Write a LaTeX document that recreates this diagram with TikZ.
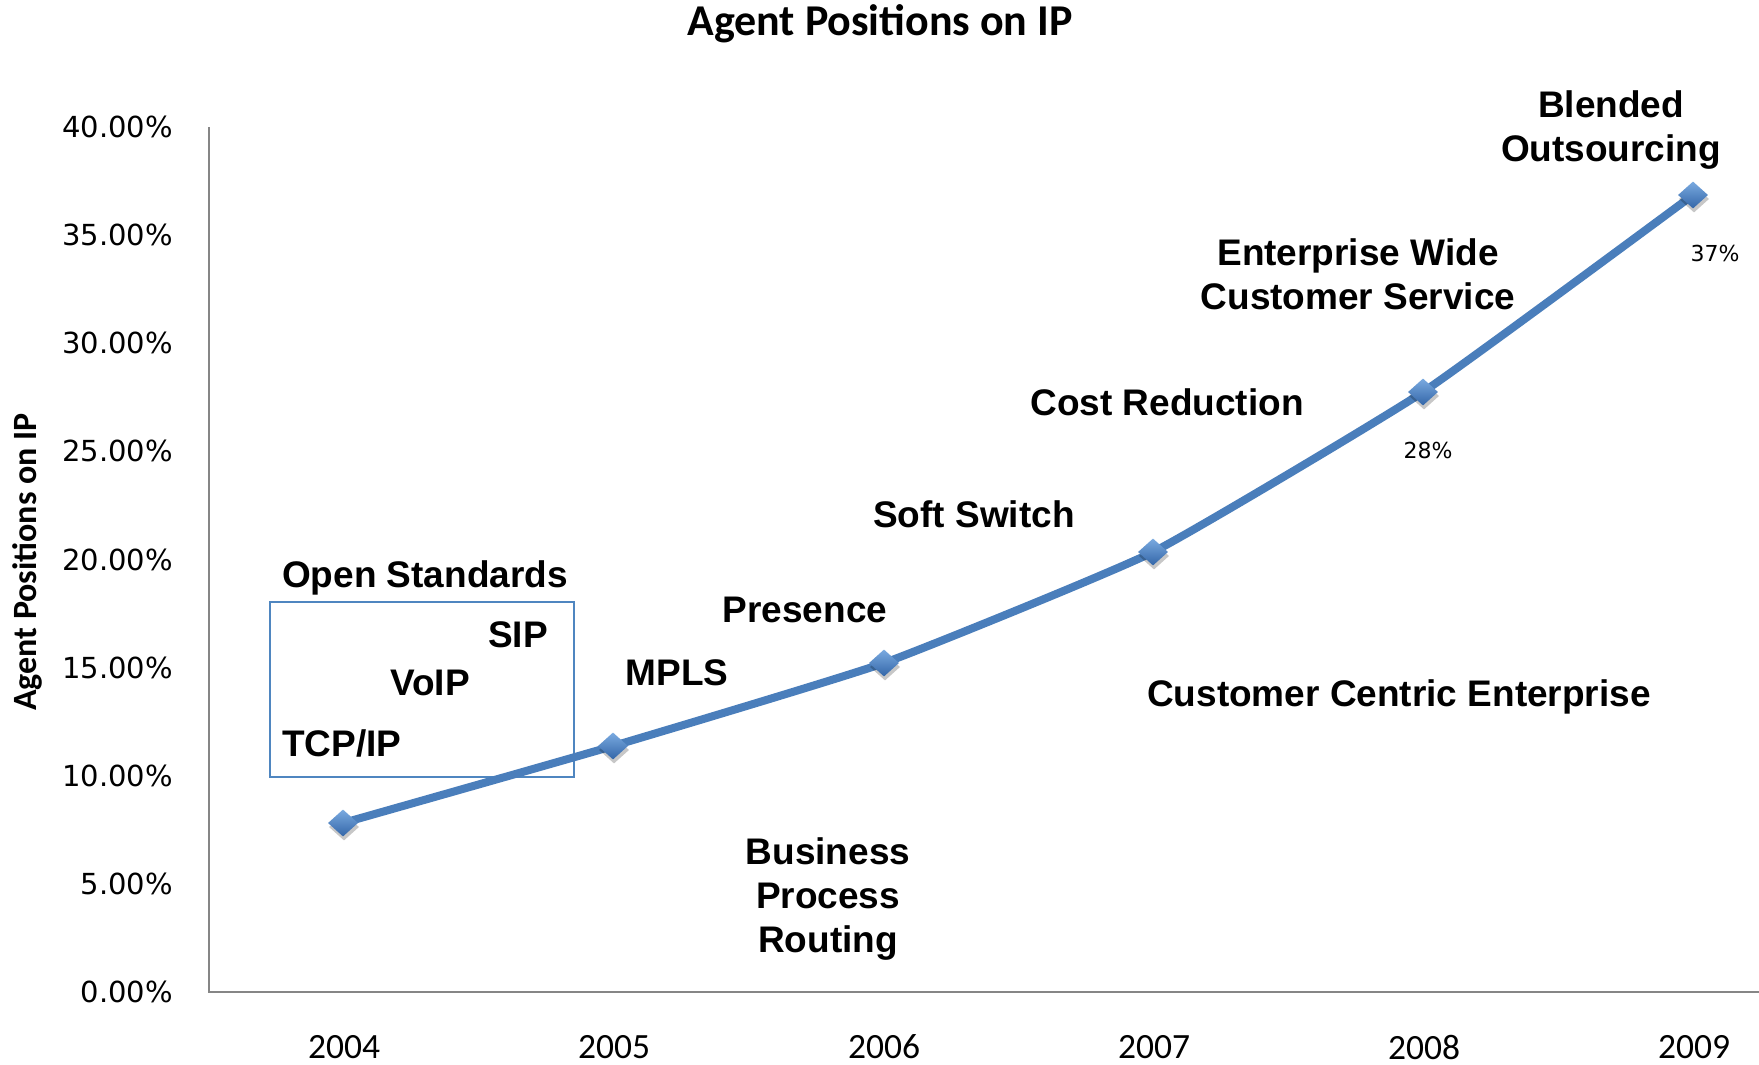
\documentclass[tikz,border=0pt]{standalone}
\usepackage{fontspec}
\setmainfont{Liberation Sans}
\newfontfamily\carlito{Carlito}
\newfontfamily\dejavu{DejaVu Sans}
\usetikzlibrary{shapes.geometric,shadows}
\definecolor{serie}{HTML}{4A7EBB}
\definecolor{serielight}{HTML}{7AAAE0}
\definecolor{seriedark}{HTML}{3366A8}
\definecolor{axisgray}{HTML}{868686}
\definecolor{boxblue}{HTML}{4F86C0}
\begin{document}
\begin{tikzpicture}[x=1pt,y=-1pt,
  ann/.style={font=\fontsize{37}{44}\selectfont\bfseries, inner sep=0pt, align=center},
  ticklab/.style={font=\dejavu\fontsize{29}{34}\selectfont, anchor=east, inner sep=0pt},
  yearlab/.style={font=\carlito\fontsize{35.5}{42}\selectfont, inner sep=0pt},
  pct/.style={font=\dejavu\fontsize{22}{26}\selectfont, inner sep=0pt},
  axisline/.style={draw=axisgray, line width=1.6pt},
  marker/.style={diamond, minimum width=30pt, minimum height=27pt, inner sep=0pt,
    top color=serielight, bottom color=seriedark, draw=none,
    drop shadow={shadow xshift=1pt, shadow yshift=-4pt, opacity=0.22, fill=black}},
  seriesline/.style={draw=serie, line width=8pt, line join=round}]
\useasboundingbox (0,0) rectangle (1759,1065);
\fill[white] (0,0) rectangle (1759,1065);

% title
\node[font=\carlito\bfseries\fontsize{44}{52}\selectfont, inner sep=0pt] (title) at (880,24) {Agent Positions on IP};

% axes
\coordinate (origin) at (209,992);
\coordinate (ytop) at (209,127);
\coordinate (xend) at (1759,992);
\draw[axisline] (ytop) -- (origin) -- (xend);

% y tick labels
\foreach \v/\t [count=\i from 0] in {0/0.00\%,5/5.00\%,10/10.00\%,15/15.00\%,20/20.00\%,25/25.00\%,30/30.00\%,35/35.00\%,40/40.00\%}{
  \node[ticklab] (yt\i) at (173,{992-21.625*\v}) {\t};
}

% axis title
\node[rotate=90, font=\carlito\bfseries\fontsize{34}{40}\selectfont, inner sep=0pt] (ytitle) at (27,562) {Agent Positions on IP};

% year labels
\foreach \yr [count=\i from 0] in {2004,2005,2006,2007,2008,2009}{
  \node[yearlab] (yr\i) at ({344+270*\i},1047) {\yr};
}

% open standards box
\draw[boxblue, line width=2.2pt] (270,602) rectangle (574,777);
\node[ann] (openstd) at (425,578) {Open Standards};
\node[ann] (sip) at (518,635) {SIP};
\node[ann] (voip) at (430,683) {VoIP};
\node[ann] (tcpip) at (342,743) {TCP/IP};

% data coordinates
\coordinate (d1) at (343,823);
\coordinate (d2) at (613,746);
\coordinate (d3) at (884,663);
\coordinate (d4) at (1153,552);
\coordinate (d5) at (1423,392);
\coordinate (d6) at (1693,195);
\draw[seriesline] plot[smooth, tension=0.25] coordinates {(d1) (d2) (d3) (d4) (d5) (d6)};
\foreach \i in {1,...,6}{
  \node[marker] (m\i) at (d\i) {};
}

% annotations
\node[ann] (mpls) at (677,673) {MPLS};
\node[ann] (presence) at (805,610) {Presence};
\node[ann] (softsw) at (974,514) {Soft Switch};
\node[ann] (costred) at (1167,402) {Cost Reduction};
\node[ann] (entwide) at (1358,274) {Enterprise Wide\\Customer Service};
\node[ann] (blended) at (1611,130) {Blended\\Outsourcing};
\node[ann] (cce) at (1399,697) {Customer Centric Enterprise};
\node[ann] (bpr) at (828,899) {Business\\Process\\Routing};

% data labels
\node[pct] (p37) at (1715,253) {37\%};
\node[pct] (p28) at (1428,450) {28\%};
\end{tikzpicture}
\end{document}
